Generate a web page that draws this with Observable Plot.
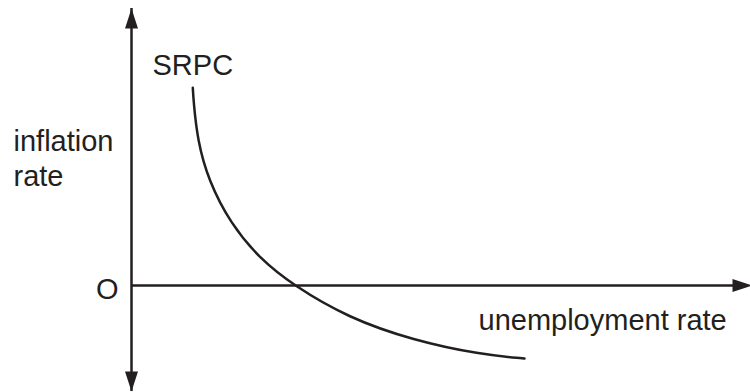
<!DOCTYPE html>
<html>
<head>
<meta charset="utf-8">
<script src="https://cdn.jsdelivr.net/npm/d3@7"></script>
<script src="https://cdn.jsdelivr.net/npm/@observablehq/plot@0.6"></script>
<style>
  html, body { margin: 0; padding: 0; background: #fff; }
  #chart svg { display: block; }
</style>
</head>
<body>
<div id="chart"></div>
<script>
// Short-run Phillips curve (schematic), abstract units with origin O at the axis crossing
const curveU = [0.613, 0.62, 0.66, 0.77, 0.99, 1.28, 1.62, 2.16, 2.82, 3.49, 3.92, 3.93];
const curveI = [1.977, 1.85, 1.45, 1.05, 0.62, 0.27, 0.00, -0.32, -0.55, -0.69, -0.73, -0.73];

// axis extents (arrow tips)
const yAxisExtent = [-1.06, 2.77];
const xAxisExtent = [0, 6.21];

// labels
const labelText = ["SRPC", "inflation\nrate", "O", "unemployment rate"];
const labelX = [0.21, -1.18, -0.13, 3.47];
const labelY = [2.11, 1.00, -0.13, -0.44];
const labelAnchor = ["start", "start", "end", "start"];

const ink = "#231f20";
const curve = curveU.map((u, i) => ({u, i: curveI[i]}));
const labels = labelText.map((t, k) => ({t, x: labelX[k], y: labelY[k], a: labelAnchor[k]}));
const tips = [
  {x: 0, y: yAxisExtent[1], r: 0},
  {x: 0, y: yAxisExtent[0], r: 180},
  {x: xAxisExtent[1], y: 0, r: 90}
];

// filled, elongated arrowhead with its tip at the anchor point, pointing up
const arrowHead = {
  draw(ctx) {
    ctx.moveTo(0, 0);
    ctx.lineTo(6.5, 20);
    ctx.lineTo(-6.5, 20);
    ctx.closePath();
  }
};

const textOpts = (anchor) => ({
  x: "x", y: "y", text: "t", textAnchor: anchor, lineAnchor: "bottom",
  lineHeight: 1.2, fontSize: 29, fill: ink, stroke: null
});

const chart = Plot.plot({
  width: 750,
  height: 392,
  margin: 0,
  style: {background: "#fff", fontFamily: "'Liberation Sans', Arial, Helvetica, sans-serif"},
  x: {domain: [-1.31, 6.19], axis: null},
  y: {domain: [-1.07, 2.85], axis: null},
  marks: [
    Plot.ruleX([0], {y1: yAxisExtent[0], y2: yAxisExtent[1], stroke: ink, strokeWidth: 2.5}),
    Plot.ruleY([0], {x1: xAxisExtent[0], x2: xAxisExtent[1] - 0.05, stroke: ink, strokeWidth: 2.5}),
    Plot.dot(tips, {x: "x", y: "y", rotate: "r", symbol: arrowHead, fill: ink, stroke: "none", r: 5}),
    Plot.line(curve, {x: "u", y: "i", curve: "basis", stroke: ink, strokeWidth: 2.5}),
    Plot.text(labels.filter((d) => d.a === "start"), textOpts("start")),
    Plot.text(labels.filter((d) => d.a === "end"), textOpts("end"))
  ]
});

document.getElementById("chart").appendChild(chart);
</script>
</body>
</html>
